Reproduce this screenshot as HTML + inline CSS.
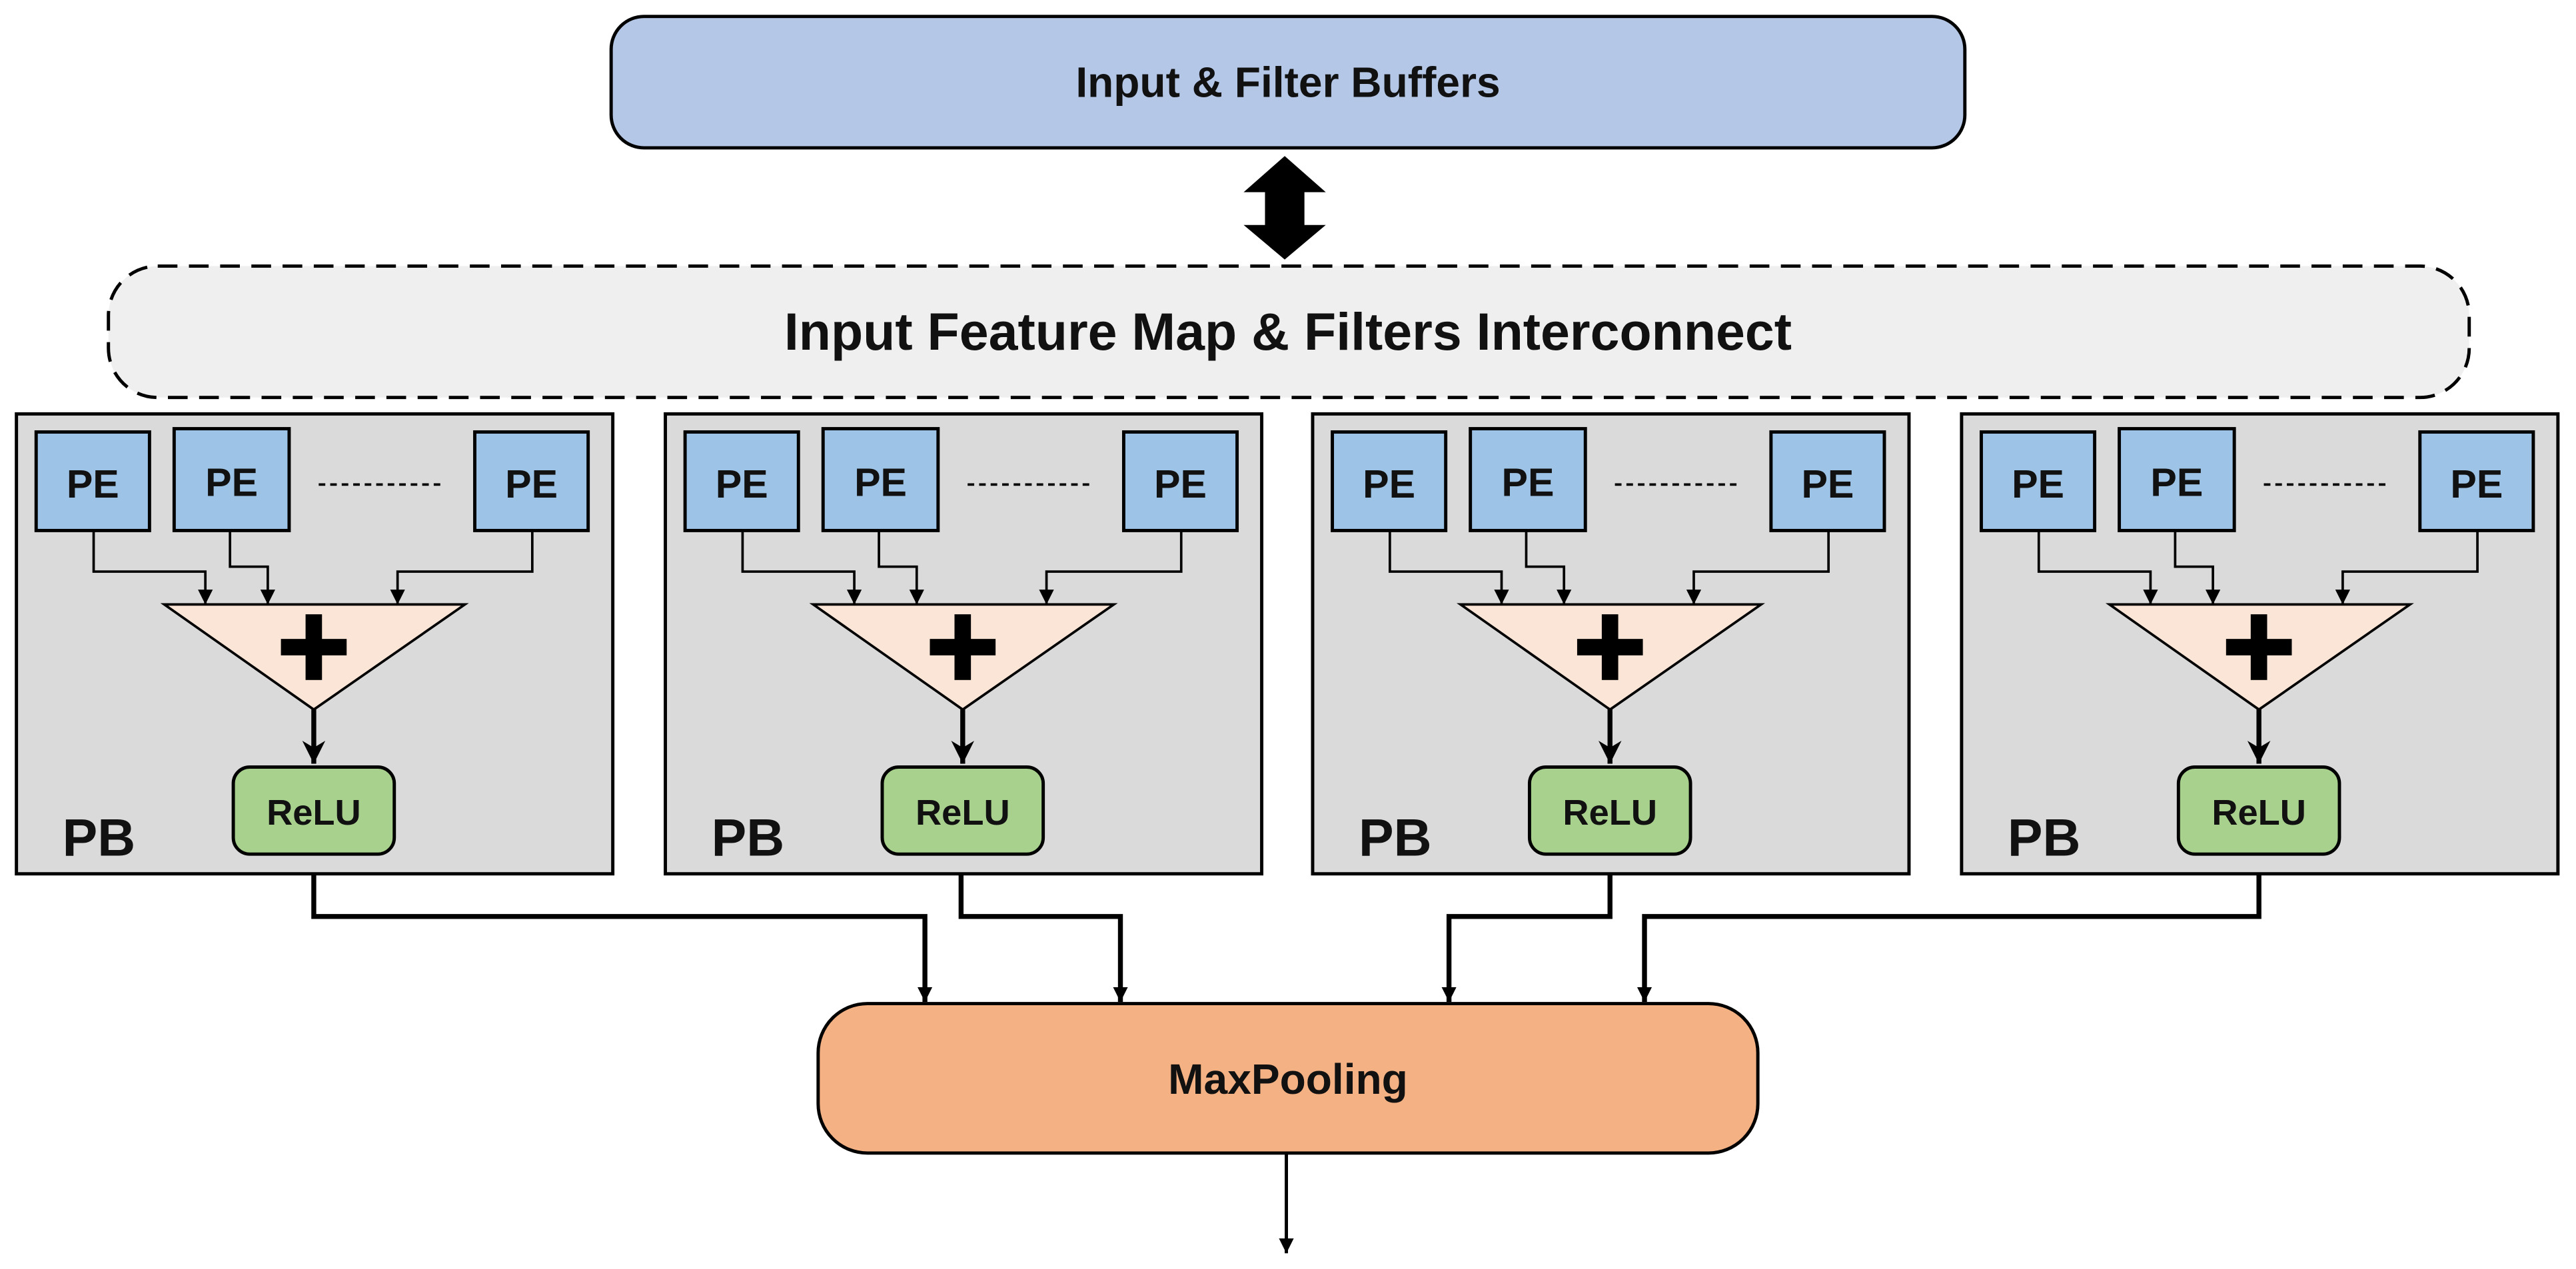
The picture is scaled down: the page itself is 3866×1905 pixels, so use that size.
<!DOCTYPE html>
<html><head><meta charset="utf-8"><style>
html,body{margin:0;padding:0;background:#fff}
svg{display:block}
text{font-family:"Liberation Sans",sans-serif;font-weight:bold;fill:#111}
</style></head><body>
<svg width="3866" height="1905" viewBox="0 0 1568 772.6" preserveAspectRatio="none" xmlns="http://www.w3.org/2000/svg">
<defs>
<marker id="a" viewBox="0 0 10 10" refX="10" refY="5" markerWidth="9" markerHeight="9" markerUnits="userSpaceOnUse" orient="auto"><path d="M0,0 L10,5 L0,10 z" fill="#000"/></marker>
<marker id="b" viewBox="0 0 10 10" refX="10" refY="5" markerWidth="14" markerHeight="14" markerUnits="userSpaceOnUse" orient="auto"><path d="M0,0 L10,5 L0,10 L3,5 z" fill="#000"/></marker>
<g id="pb">
<rect x="10" y="252" width="363" height="280" fill="#dadada" stroke="#000" stroke-width="2"/>
<rect x="22" y="263" width="69" height="60" fill="#9dc3e6" stroke="#000" stroke-width="2"/>
<rect x="106" y="261" width="70" height="62" fill="#9dc3e6" stroke="#000" stroke-width="2"/>
<rect x="289" y="263" width="69" height="60" fill="#9dc3e6" stroke="#000" stroke-width="2"/>
<text x="56.5" y="303" font-size="24" text-anchor="middle">PE</text>
<text x="141" y="302" font-size="24" text-anchor="middle">PE</text>
<text x="323.5" y="303" font-size="24" text-anchor="middle">PE</text>
<line x1="194" y1="295" x2="271" y2="295" stroke="#000" stroke-width="1.5" stroke-dasharray="4,3"/>
<polyline points="57,323 57,348 125,348 125,368" fill="none" stroke="#000" stroke-width="1.5" marker-end="url(#a)"/>
<polyline points="140,323 140,345 163,345 163,368" fill="none" stroke="#000" stroke-width="1.5" marker-end="url(#a)"/>
<polyline points="324,323 324,348 242,348 242,368" fill="none" stroke="#000" stroke-width="1.5" marker-end="url(#a)"/>
<polygon points="100,368 283,368 191,432" fill="#fbe5d6" stroke="#000" stroke-width="1.5"/>
<rect x="171" y="389" width="40" height="10" fill="#000"/>
<rect x="186" y="374" width="10" height="40" fill="#000"/>
<line x1="191" y1="432" x2="191" y2="465" stroke="#000" stroke-width="3" marker-end="url(#b)"/>
<rect x="142" y="467" width="98" height="53" rx="10" fill="#a9d18e" stroke="#000" stroke-width="2"/>
<text x="191" y="502" font-size="22" text-anchor="middle">ReLU</text>
<text x="38" y="521" font-size="32">PB</text>
</g>
</defs>
<rect x="372" y="10" width="824" height="80" rx="20" fill="#b4c7e7" stroke="#000" stroke-width="2"/>
<text x="784" y="59" font-size="26" text-anchor="middle">Input &amp; Filter Buffers</text>
<polygon points="782,95 807,117 794,117 794,137 807,137 782,158 757,137 770,137 770,117 757,117" fill="#000"/>
<rect x="66" y="162" width="1437" height="80" rx="30" fill="#efefef" stroke="#000" stroke-width="2" stroke-dasharray="12,7"/>
<text x="784" y="213" font-size="32" text-anchor="middle">Input Feature Map &amp; Filters Interconnect</text>
<use href="#pb"/>
<use href="#pb" x="395"/>
<use href="#pb" x="789"/>
<use href="#pb" x="1184"/>
<polyline points="191,532 191,558 563,558 563,610" fill="none" stroke="#000" stroke-width="3" marker-end="url(#a)"/>
<polyline points="585,532 585,558 682,558 682,610" fill="none" stroke="#000" stroke-width="3" marker-end="url(#a)"/>
<polyline points="980,532 980,558 882,558 882,610" fill="none" stroke="#000" stroke-width="3" marker-end="url(#a)"/>
<polyline points="1375,532 1375,558 1001,558 1001,610" fill="none" stroke="#000" stroke-width="3" marker-end="url(#a)"/>
<rect x="498" y="611" width="572" height="91" rx="30" fill="#f4b183" stroke="#000" stroke-width="2"/>
<text x="784" y="666" font-size="26" text-anchor="middle">MaxPooling</text>
<line x1="783" y1="702" x2="783" y2="763" stroke="#000" stroke-width="2" marker-end="url(#a)"/>
</svg>
</body></html>
